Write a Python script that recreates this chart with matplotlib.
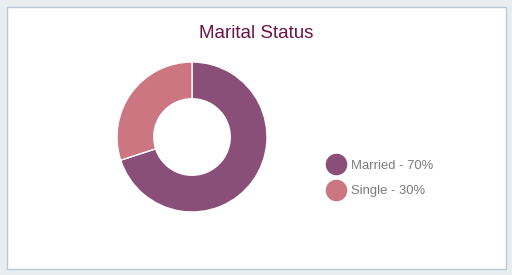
import matplotlib
matplotlib.use("Agg")
import matplotlib.pyplot as plt
from matplotlib.patches import Rectangle
from matplotlib.lines import Line2D

categories = ["Married", "Single"]
values = [70, 30]
colors = ["#8a4f78", "#cc7682"]
title = "Marital Status"

W, H = 512, 275
fig = plt.figure(figsize=(W / 100, H / 100), dpi=100)
fig.patch.set_facecolor("#e8edf0")

# white panel
fig.patches.append(Rectangle((6.5 / W, (H - 268.5) / H), 499.5 / W, 261.5 / H,
                             transform=fig.transFigure, facecolor="white",
                             edgecolor="#b9c9d5", linewidth=1, zorder=-5))

ax = fig.add_axes([117 / W, (H - 212) / H, 150 / W, 150 / H])
ax.set_zorder(2)
ax.pie(values, colors=colors, startangle=90, counterclock=False, radius=1,
       wedgeprops=dict(width=0.49, edgecolor="white", linewidth=1))
ax.set_xlim(-1, 1)
ax.set_ylim(-1, 1)
ax.set_aspect("equal")
ax.axis("off")

fig.text(256 / W, (H - 33) / H, title, ha="center", va="center",
         fontsize=13.5, color="#6b1449", family="Liberation Sans", zorder=3)

handles = [Line2D([0], [0], marker="o", linestyle="none", markersize=14.5,
                  markerfacecolor=c, markeredgecolor=c) for c in colors]
labels = [f"{c} - {v}%" for c, v in zip(categories, values)]
leg = fig.legend(handles, labels, loc="center left",
                 bbox_to_anchor=(326 / W, (H - 178.5) / H),
                 frameon=False, handletextpad=0.42, labelspacing=1.05,
                 handlelength=1.5, borderpad=0, borderaxespad=0,
                 prop=dict(family="Liberation Sans", size=9.4))
leg.set_zorder(3)
for t in leg.get_texts():
    t.set_color("#7a7a7a")

fig.savefig("out.png", dpi=100, facecolor=fig.get_facecolor())
